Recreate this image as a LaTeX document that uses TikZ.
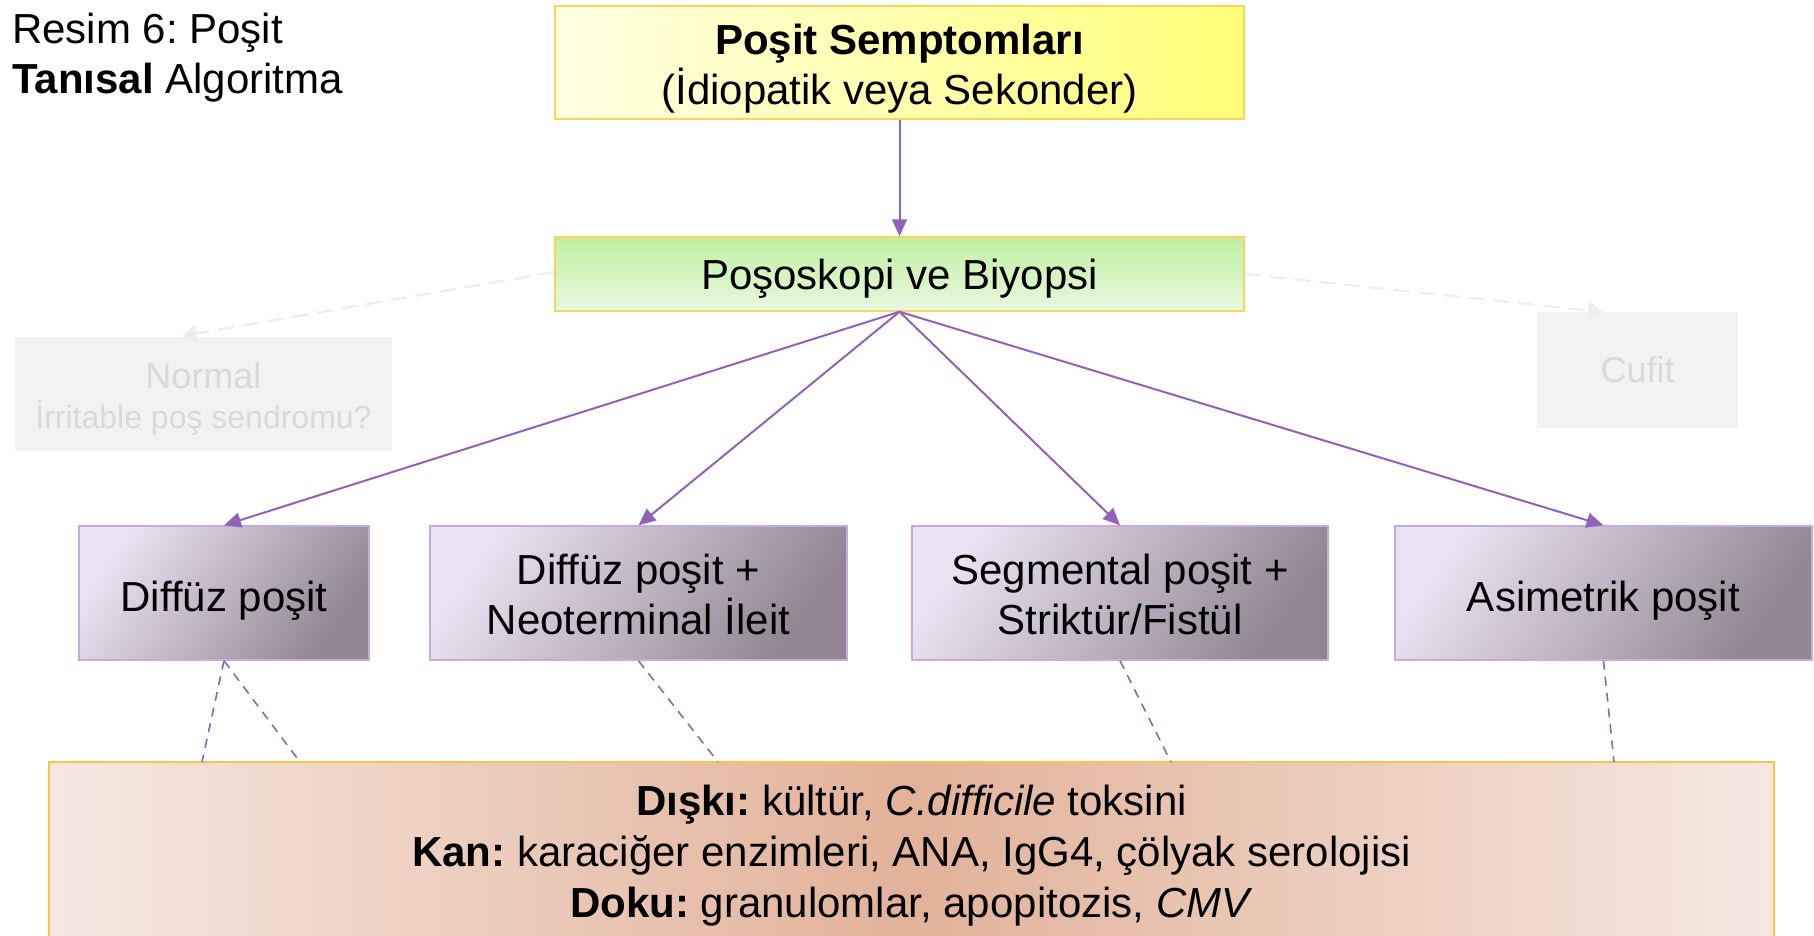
\documentclass[tikz,border=0pt]{standalone}
\usepackage{fontspec}
\setmainfont{Liberation Sans}
\usetikzlibrary{arrows.meta}
\frenchspacing

\definecolor{linkpurple}{HTML}{9163B8}
\definecolor{goldline}{HTML}{F9D35A}
\definecolor{peachline}{HTML}{F6C648}
\definecolor{yellowL}{HTML}{FFFFE4}
\definecolor{yellowR}{HTML}{FFFF78}
\definecolor{greenT}{HTML}{C0F0A0}
\definecolor{greenB}{HTML}{E8F8E0}
\definecolor{lilacL}{HTML}{EAE2F2}
\definecolor{lilacD}{HTML}{918592}
\definecolor{lilacLine}{HTML}{C8AADF}
\definecolor{peachEdge}{HTML}{F5E8E1}
\definecolor{peachMid}{HTML}{E2B299}
\definecolor{fadedFill}{HTML}{F2F2F2}
\definecolor{fadedText}{HTML}{D9D9D9}
\definecolor{fadedLine}{HTML}{EDEDED}

\begin{document}
\begin{tikzpicture}[x=1pt,y=-1pt,
  bigfont/.style={font=\fontsize{42}{50}\selectfont},
  box/.style={inner sep=0pt, align=center, bigfont},
  yellowbox/.style={box, draw=goldline, line width=1.5pt, left color=yellowL, right color=yellowR,
    minimum width=689pt, minimum height=113pt},
  greenbox/.style={box, draw=goldline, line width=1.5pt, top color=greenT, bottom color=greenB,
    minimum width=689pt, minimum height=74pt},
  lilacbox/.style={box, draw=lilacLine, line width=1.5pt, top color=lilacL, bottom color=lilacD,
    shading angle=55, minimum height=134pt},
  oneline/.style={text height=37pt, text depth=0pt},
  fadedbox/.style={box, fill=fadedFill, text=fadedText},
  peachbox/.style={box, draw=peachline, line width=1.5pt, left color=peachEdge,
    right color=peachEdge, middle color=peachMid, minimum width=1725pt, minimum height=188pt,
    font=\fontsize{42}{51}\selectfont},
  flow/.style={draw=linkpurple, line width=2pt, -{Triangle[length=17pt,width=15pt]}},
  faded/.style={draw=fadedLine, line width=2.2pt, dash pattern=on 16pt off 9pt,
    -{Triangle[length=15pt,width=18pt]}},
  detail/.style={draw=linkpurple, line width=1.6pt, dash pattern=on 9pt off 7pt}
]
\useasboundingbox (0,0) rectangle (1814,936);

% caption
\node[anchor=base west, inner sep=0pt, bigfont] (caption) at (12,44) {Resim 6: Poşit};
\node[anchor=base west, inner sep=0pt, bigfont] (captionb) at (12,94) {\textbf{Tanısal} Algoritma};

% main chain
\node[yellowbox] (symptoms) at (899.5,62.5)
  {\rule{0pt}{43pt}\textbf{Poşit Semptomları}\\(İdiopatik veya Sekonder)};
\node[greenbox, text depth=0pt] (scope) at (899.5,274) {Poşoskopi ve Biyopsi};

% faded outcomes
\node[fadedbox, minimum width=377pt, minimum height=114pt] (normal) at (203.5,394)
  {\rule{0pt}{36pt}{\fontsize{36}{40}\selectfont Normal}\\[-10pt]{\fontsize{32}{36}\selectfont İrritable poş sendromu?}};
\node[fadedbox, minimum width=201pt, minimum height=116pt, text depth=1pt, font=\fontsize{36}{40}\selectfont]
  (cufit) at (1637.5,370) {Cufit};

% findings
\node[lilacbox, oneline, minimum width=290pt] (diffuse) at (224,593) {Diffüz poşit};
\node[lilacbox, minimum width=417pt] (ileitis) at (638.5,593) {\rule{0pt}{34pt}Diffüz poşit +\\Neoterminal İleit};
\node[lilacbox, minimum width=416pt] (segment) at (1120,593) {\rule{0pt}{34pt}Segmental poşit +\\Striktür/Fistül};
\node[lilacbox, oneline, minimum width=417pt] (asym) at (1603.5,593) {Asimetrik poşit};

% further tests
\node[peachbox] (tests) at (911.5,856)
  {\textbf{Dışkı:} kültür, \textit{C.difficile} toksini\\
   \textbf{Kan:} karaciğer enzimleri, ANA, IgG4, çölyak serolojisi\\
   \textbf{Doku:} granulomlar, apopitozis, \textit{CMV}};

% connectors
\draw[flow] (symptoms.south) -- (scope.north);
\draw[faded] (scope.west) ++(0,-2) -- (182,336);
\draw[faded] (scope.east) -- (1603,312);
\draw[flow] (scope.south) -- (diffuse.north);
\draw[flow] (scope.south) -- (ileitis.north);
\draw[flow] (scope.south) -- (segment.north);
\draw[flow] (scope.south) -- (asym.north);

\coordinate (t1) at (202,762);
\coordinate (t2) at (300,762);
\coordinate (t3) at (718,762);
\coordinate (t4) at (1171,762);
\coordinate (t5) at (1614,762);
\draw[detail] (diffuse.south) -- (t1);
\draw[detail] (diffuse.south) -- (t2);
\draw[detail] (ileitis.south) -- (t3);
\draw[detail] (segment.south) -- (t4);
\draw[detail] (asym.south) -- (t5);
\end{tikzpicture}
\end{document}
